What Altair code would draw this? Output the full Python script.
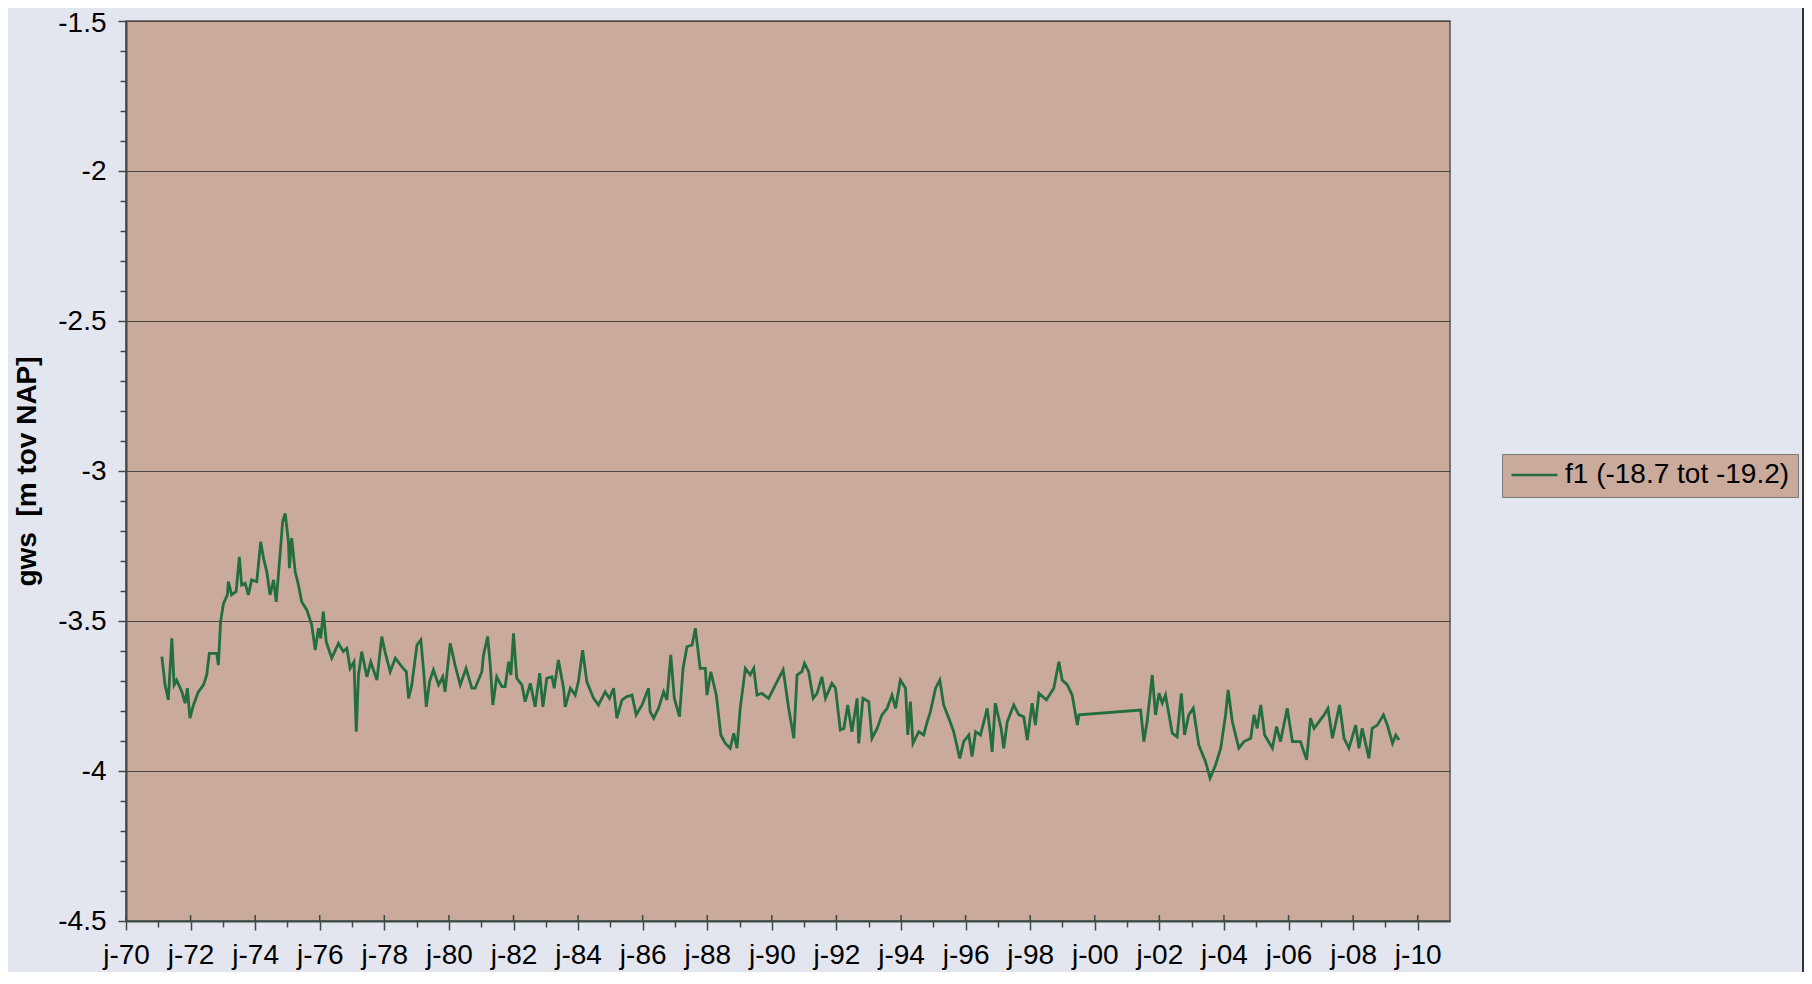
import altair as alt
import pandas as pd

SERIES_NAME = "f1 (-18.7 tot -19.2)"
Y_TITLE = "gws \u00a0[m tov NAP]"

YEARS = [
    1971.11, 1971.21, 1971.31, 1971.42, 1971.49, 1971.57, 1971.73, 1971.83, 1971.90, 1971.98,
    1972.09, 1972.24, 1972.40, 1972.50, 1972.58, 1972.81, 1972.86, 1972.93, 1973.02, 1973.14,
    1973.17, 1973.27, 1973.41, 1973.51, 1973.58, 1973.69, 1973.79, 1973.89, 1974.05, 1974.17,
    1974.26, 1974.36, 1974.46, 1974.57, 1974.65, 1974.77, 1974.85, 1974.93, 1975.03, 1975.06,
    1975.13, 1975.24, 1975.34, 1975.44, 1975.60, 1975.75, 1975.86, 1975.96, 1976.03, 1976.11,
    1976.20, 1976.37, 1976.58, 1976.73, 1976.84, 1976.94, 1977.06, 1977.13, 1977.20, 1977.30,
    1977.46, 1977.58, 1977.77, 1977.92, 1978.02, 1978.18, 1978.34, 1978.54, 1978.68, 1978.75,
    1978.85, 1979.01, 1979.13, 1979.21, 1979.30, 1979.40, 1979.52, 1979.68, 1979.81, 1979.88,
    1980.04, 1980.19, 1980.35, 1980.53, 1980.71, 1980.81, 1981.02, 1981.07, 1981.20, 1981.28,
    1981.36, 1981.48, 1981.64, 1981.74, 1981.85, 1981.92, 1982.00, 1982.10, 1982.26, 1982.36,
    1982.52, 1982.67, 1982.81, 1982.91, 1983.03, 1983.19, 1983.26, 1983.39, 1983.55, 1983.60,
    1983.76, 1983.91, 1984.01, 1984.14, 1984.27, 1984.48, 1984.63, 1984.84, 1984.97, 1985.10,
    1985.20, 1985.36, 1985.51, 1985.67, 1985.80, 1985.98, 1986.18, 1986.23, 1986.34, 1986.49,
    1986.65, 1986.75, 1986.87, 1986.98, 1987.14, 1987.25, 1987.37, 1987.53, 1987.63, 1987.78,
    1987.94, 1987.99, 1988.11, 1988.28, 1988.42, 1988.56, 1988.71, 1988.82, 1988.92, 1989.02,
    1989.18, 1989.33, 1989.44, 1989.54, 1989.69, 1989.90, 1990.11, 1990.35, 1990.52, 1990.68,
    1990.78, 1990.93, 1991.01, 1991.14, 1991.28, 1991.40, 1991.55, 1991.66, 1991.86, 1991.97,
    1992.12, 1992.23, 1992.35, 1992.48, 1992.64, 1992.69, 1992.82, 1993.00, 1993.10, 1993.26,
    1993.41, 1993.57, 1993.72, 1993.83, 1993.98, 1994.14, 1994.21, 1994.29, 1994.37, 1994.55,
    1994.70, 1994.81, 1994.91, 1995.07, 1995.20, 1995.32, 1995.48, 1995.63, 1995.82, 1995.94,
    1996.10, 1996.20, 1996.31, 1996.46, 1996.67, 1996.77, 1996.82, 1996.92, 1997.10, 1997.18,
    1997.29, 1997.49, 1997.65, 1997.80, 1997.91, 1998.06, 1998.16, 1998.27, 1998.50, 1998.73,
    1998.89, 1998.99, 1999.15, 1999.30, 1999.46, 1999.51, 2001.42, 2001.52, 2001.62, 2001.78,
    2001.88, 2001.99, 2002.09, 2002.19, 2002.40, 2002.55, 2002.68, 2002.78, 2002.91, 2003.05,
    2003.22, 2003.43, 2003.57, 2003.74, 2003.90, 2004.05, 2004.13, 2004.26, 2004.46, 2004.62,
    2004.83, 2004.93, 2005.03, 2005.14, 2005.26, 2005.50, 2005.63, 2005.75, 2005.96, 2006.12,
    2006.37, 2006.56, 2006.68, 2006.79, 2006.94, 2007.10, 2007.22, 2007.36, 2007.58, 2007.72,
    2007.87, 2008.08, 2008.18, 2008.28, 2008.49, 2008.59, 2008.75, 2008.94, 2009.06, 2009.22,
    2009.32, 2009.42,
]

LEVELS = [
    -3.619, -3.713, -3.763, -3.558, -3.713, -3.697, -3.736, -3.774, -3.724, -3.824,
    -3.780, -3.736, -3.713, -3.680, -3.608, -3.608, -3.647, -3.502, -3.441, -3.413,
    -3.369, -3.413, -3.402, -3.286, -3.380, -3.374, -3.413, -3.363, -3.369, -3.236,
    -3.291, -3.336, -3.413, -3.363, -3.436, -3.280, -3.169, -3.141, -3.236, -3.324,
    -3.224, -3.336, -3.380, -3.436, -3.463, -3.513, -3.597, -3.524, -3.558, -3.469,
    -3.569, -3.624, -3.574, -3.602, -3.591, -3.658, -3.636, -3.869, -3.680, -3.602,
    -3.686, -3.636, -3.697, -3.552, -3.602, -3.669, -3.624, -3.652, -3.669, -3.758,
    -3.713, -3.580, -3.563, -3.658, -3.786, -3.702, -3.663, -3.713, -3.686, -3.736,
    -3.574, -3.647, -3.713, -3.658, -3.724, -3.724, -3.669, -3.613, -3.552, -3.647,
    -3.780, -3.686, -3.719, -3.719, -3.636, -3.680, -3.541, -3.691, -3.713, -3.769,
    -3.708, -3.786, -3.674, -3.786, -3.691, -3.686, -3.724, -3.630, -3.724, -3.786,
    -3.724, -3.747, -3.702, -3.597, -3.702, -3.758, -3.780, -3.736, -3.758, -3.724,
    -3.824, -3.763, -3.752, -3.747, -3.813, -3.780, -3.724, -3.802, -3.824, -3.791,
    -3.736, -3.763, -3.613, -3.758, -3.819, -3.658, -3.586, -3.580, -3.524, -3.658,
    -3.658, -3.747, -3.669, -3.747, -3.880, -3.908, -3.924, -3.874, -3.924, -3.791,
    -3.658, -3.680, -3.658, -3.747, -3.741, -3.758, -3.713, -3.663, -3.791, -3.891,
    -3.680, -3.669, -3.641, -3.669, -3.758, -3.741, -3.686, -3.758, -3.708, -3.724,
    -3.863, -3.858, -3.780, -3.869, -3.758, -3.908, -3.758, -3.769, -3.891, -3.858,
    -3.813, -3.791, -3.747, -3.791, -3.697, -3.724, -3.880, -3.769, -3.908, -3.869,
    -3.880, -3.836, -3.802, -3.724, -3.697, -3.780, -3.824, -3.869, -3.958, -3.902,
    -3.880, -3.952, -3.869, -3.880, -3.791, -3.880, -3.936, -3.774, -3.858, -3.924,
    -3.836, -3.780, -3.813, -3.819, -3.897, -3.774, -3.847, -3.741, -3.763, -3.724,
    -3.636, -3.697, -3.713, -3.747, -3.847, -3.813, -3.797, -3.902, -3.836, -3.680,
    -3.813, -3.741, -3.774, -3.747, -3.874, -3.886, -3.741, -3.880, -3.813, -3.791,
    -3.913, -3.969, -4.024, -3.980, -3.924, -3.813, -3.730, -3.836, -3.924, -3.902,
    -3.891, -3.813, -3.858, -3.780, -3.880, -3.924, -3.852, -3.902, -3.791, -3.902,
    -3.902, -3.963, -3.824, -3.858, -3.836, -3.813, -3.791, -3.891, -3.780, -3.891,
    -3.924, -3.847, -3.924, -3.858, -3.958, -3.858, -3.847, -3.813, -3.847, -3.908,
    -3.880, -3.897,
]

X_TICKS = [1970, 1971, 1972, 1973, 1974, 1975, 1976, 1977, 1978, 1979,
           1980, 1981, 1982, 1983, 1984, 1985, 1986, 1987, 1988, 1989,
           1990, 1991, 1992, 1993, 1994, 1995, 1996, 1997, 1998, 1999,
           2000, 2001, 2002, 2003, 2004, 2005, 2006, 2007, 2008, 2009, 2010]
X_MAJOR = [1970, 1972, 1974, 1976, 1978, 1980, 1982, 1984, 1986, 1988, 1990,
           1992, 1994, 1996, 1998, 2000, 2002, 2004, 2006, 2008, 2010]
Y_TICKS = [-4.5, -4.4, -4.3, -4.2, -4.1, -4.0, -3.9, -3.8, -3.7, -3.6,
           -3.5, -3.4, -3.3, -3.2, -3.1, -3.0, -2.9, -2.8, -2.7, -2.6,
           -2.5, -2.4, -2.3, -2.2, -2.1, -2.0, -1.9, -1.8, -1.7, -1.6, -1.5]

PLOT_BG = "#C9AA9B"
PAGE_BG = "#E4E6EF"
LINE_COLOR = "#236E3D"
AXIS_COLOR = "#3b4a45"
FONT = "Liberation Sans"

df = pd.DataFrame({"year": YEARS, "gws": LEVELS, "serie": [SERIES_NAME] * len(YEARS)})
df_major = pd.DataFrame({"year": X_MAJOR})

major_y = "abs(datum.value * 2 - round(datum.value * 2)) < 0.01"
major_x = "datum.value % 2 == 0"

x_scale = alt.Scale(domain=[1970, 2011], nice=False, zero=False)

x_axis = alt.Axis(
    values=X_TICKS,
    title=None,
    grid=False,
    labelExpr=f"{major_x} ? 'j-' + (datum.value % 100 < 10 ? '0' : '') + (datum.value % 100) : ''",
    tickSize={"condition": {"test": major_x, "value": 9}, "value": 6},
    labelPadding=11,
    labelFontSize=28,
    labelColor="black",
    labelFont=FONT,
    labelFlush=False,
    labelOverlap=False,
    domainColor=AXIS_COLOR,
    domainWidth=2,
    tickColor=AXIS_COLOR,
    tickWidth=1.5,
)

y_axis = alt.Axis(
    values=Y_TICKS,
    title=Y_TITLE,
    titleFont=FONT,
    titleFontSize=28,
    titleFontWeight="bold",
    titleColor="black",
    titleAngle=270,
    titleX=-99,
    titleY=450,
    titleAlign="center",
    titleBaseline="middle",
    labelExpr=f"{major_y} ? '' + datum.value : ''",
    labelOffset={"condition": {"test": "datum.value > -1.55", "value": 2}, "value": 0},
    tickSize={"condition": {"test": major_y, "value": 8}, "value": 6},
    labelPadding=12,
    labelFontSize=28,
    labelColor="black",
    labelFont=FONT,
    labelFlush=False,
    labelOverlap=False,
    grid=True,
    gridColor="#4a4540",
    gridWidth=1.2,
    gridOpacity={"condition": {"test": major_y, "value": 1}, "value": 0},
    domainColor=AXIS_COLOR,
    domainWidth=2,
    tickColor=AXIS_COLOR,
    tickWidth=1.5,
)

line = alt.Chart(df).mark_line(strokeWidth=2.8, clip=True).encode(
    x=alt.X("year:Q", scale=x_scale, axis=x_axis),
    y=alt.Y("gws:Q", scale=alt.Scale(domain=[-4.5, -1.5], nice=False, zero=False), axis=y_axis),
    color=alt.Color(
        "serie:N",
        scale=alt.Scale(range=[LINE_COLOR]),
        legend=alt.Legend(
            title=None,
            orient="none",
            legendX=1376,
            legendY=433,
            fillColor=PLOT_BG,
            strokeColor="#7a7a7a",
            padding=8,
            symbolType="stroke",
            symbolSize=2116,
            symbolStrokeWidth=2.5,
            clipHeight=26,
            labelFontSize=28,
            labelFont=FONT,
            labelColor="black",
            labelOffset=6,
            labelLimit=500,
        ),
    ),
)

# inner half of the "cross" major ticks on the time axis
inner_ticks = alt.Chart(df_major).mark_rule(color=AXIS_COLOR, strokeWidth=1.5).encode(
    x=alt.X("year:Q", scale=x_scale, axis=x_axis),
    y=alt.value(894),
    y2=alt.value(900),
)

border = alt.Chart(pd.DataFrame({"k": [0]})).mark_rule(color="#333333", strokeWidth=2).encode(
    x=alt.value(1677), y=alt.value(-13), y2=alt.value(951)
)

chart = alt.layer(line, inner_ticks, border).properties(
    width=1324,
    height=900,
    autosize=alt.AutoSizeParams(type="none"),
    padding={"left": 118, "top": 13, "right": 354, "bottom": 51},
    background=PAGE_BG,
).configure(
    font=FONT,
    view=alt.ViewConfig(fill=PLOT_BG, stroke="#555555", strokeWidth=1.5),
)

chart.save("out.html", embed_options={"renderer": "svg", "actions": False})
